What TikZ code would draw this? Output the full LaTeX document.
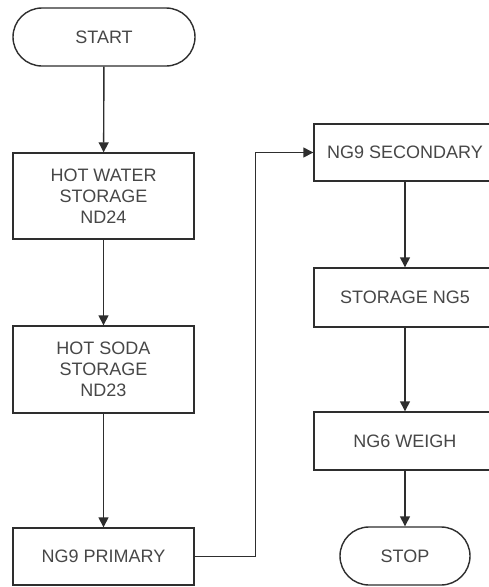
\documentclass[tikz,border=0pt]{standalone}
\usepackage{fontspec}
\setmainfont{Liberation Sans}
\usetikzlibrary{arrows.meta}
\begin{document}
\begin{tikzpicture}[x=1pt, y=-1pt,
  every node/.style={font=\fontsize{18}{21}\selectfont, text=black!72, align=center, inner sep=0pt},
  procbox/.style={draw=black!82, line width=1.4pt, minimum width=181pt},
  terminal/.style={draw=black!82, line width=1.4pt, rounded corners=29pt, minimum height=58pt},
  flow/.style={draw=black!82, line width=1.4pt, -{Triangle[length=10pt,width=10pt]}},
  link/.style={draw=black!82, line width=1.4pt}
]
\clip (0,0) rectangle (489,587);
\fill[white] (0,0) rectangle (489,587);

% left column
\node[terminal, minimum width=182pt] (start) at (104,37) {START};
\node[procbox, minimum height=86pt] (water) at (103.5,196) {HOT WATER\\STORAGE\\ND24};
\node[procbox, minimum height=87pt] (soda) at (103.5,369.5) {HOT SODA\\STORAGE\\ND23};
\node[procbox, minimum height=57pt] (prim) at (103.5,556.5) {NG9 PRIMARY};

% right column
\node[procbox, minimum width=182pt, minimum height=57pt] (sec) at (405,152.5) {NG9 SECONDARY};
\node[procbox, minimum width=182pt, minimum height=59pt] (ng5) at (405,297.5) {STORAGE NG5};
\node[procbox, minimum width=182pt, minimum height=58pt] (weigh) at (405,441) {NG6 WEIGH};
\node[terminal, minimum width=130pt] (stop) at (405,556) {STOP};

% connectors
\draw[flow] (start) -- (water);
\draw[flow] (water) -- (soda);
\draw[flow] (soda) -- (prim);
\draw[link] (prim.east) -- ++(61,0) coordinate (bend);
\draw[flow] (bend) |- (sec.west);
\draw[flow] (sec) -- (ng5);
\draw[flow] (ng5) -- (weigh);
\draw[flow] (weigh) -- (stop);
\end{tikzpicture}
\end{document}
